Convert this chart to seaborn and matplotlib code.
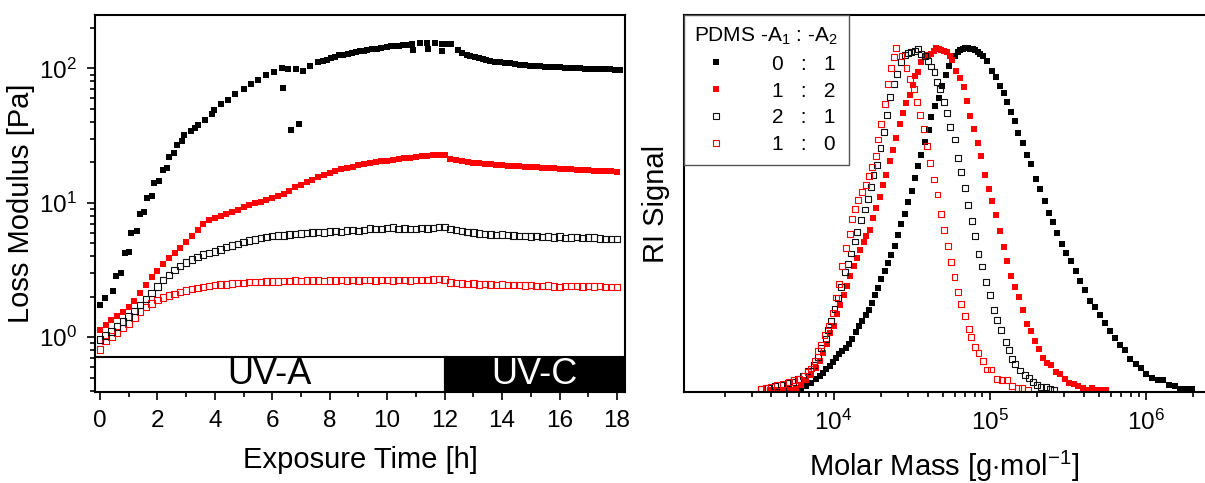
import numpy as np
import pandas as pd
import matplotlib
matplotlib.use("Agg")
import matplotlib.pyplot as plt
import matplotlib.transforms as mtransforms
from matplotlib.lines import Line2D
from matplotlib.ticker import LogLocator, MultipleLocator, NullFormatter, NullLocator
import seaborn as sns

# ---------------- data: left panel (loss modulus vs exposure time) ----------------
# PDMS -A1 : -A2 = 0 : 1 (filled black)
time_01 = [0.0, 0.17, 0.45, 0.57, 0.74, 0.86, 1.01, 1.10, 1.28, 1.38, 1.53, 1.63, 1.82, 1.89, 2.07, 2.18,
           2.35, 2.40, 2.59, 2.67, 2.87, 2.94, 3.16, 3.30, 3.42, 3.66, 3.91, 3.97, 4.21, 4.47, 4.72, 5.01,
           5.26, 5.51, 5.80, 6.07, 6.33, 6.38, 6.56, 6.67, 6.82, 6.93, 7.08, 7.33, 7.60, 7.75, 7.89, 8.03,
           8.18, 8.32, 8.47, 8.62, 8.76, 8.90, 9.05, 9.18, 9.31, 9.47, 9.63, 9.80, 9.98, 10.12, 10.27, 10.42,
           10.56, 10.70, 10.85, 10.91, 11.14, 11.37, 11.43, 11.66, 11.90, 11.92, 12.05, 12.24, 12.48, 12.62,
           12.77, 12.90, 13.06, 13.20, 13.35, 13.45, 13.58, 13.75, 13.93, 14.10, 14.28, 14.45, 14.62, 14.80,
           14.97, 15.15, 15.32, 15.50, 15.67, 15.85, 16.01, 16.20, 16.36, 16.55, 16.71, 16.90, 17.06, 17.25,
           17.41, 17.60, 17.75, 17.92, 18.10]
gpp_01 = [1.74, 1.96, 2.20, 2.85, 3.00, 4.20, 4.31, 6.00, 6.20, 8.20, 8.50, 10.9, 11.3, 14.0, 14.4, 17.4,
          18.2, 21.8, 23.3, 26.8, 28.7, 31.8, 34.5, 36.0, 37.7, 41.4, 45.9, 49.4, 53.9, 58.4, 64.7, 70.1,
          76.0, 82.4, 88.7, 94.5, 100, 71.8, 99.4, 35.1, 98.4, 38.7, 95.5, 105, 111, 113, 115, 119,
          122, 125, 127, 129, 131, 132, 134, 135, 137, 139, 140, 142, 145, 146, 147, 148,
          149, 150, 151, 137, 154, 155, 139, 154, 151, 135, 152, 151, 137, 131,
          127, 124, 122, 120, 118, 116, 113, 112, 111, 110, 109, 108, 107, 106,
          105, 104, 104, 103, 103, 102, 102, 101, 100.4, 100, 101, 99.8, 99.4, 99.0,
          98.4, 98.5, 98.4, 98.0, 97.5]

# regular sampling times for the other three samples
time_reg = [0.0, 0.2, 0.4, 0.6, 0.8, 1.0, 1.2, 1.4, 1.6, 1.8, 2.0, 2.2, 2.4, 2.6, 2.8, 3.0, 3.2, 3.4,
            3.6, 3.8, 4.0, 4.2, 4.4, 4.6, 4.8, 5.0, 5.2, 5.4, 5.6, 5.8, 6.0, 6.2, 6.4, 6.6, 6.8, 7.0,
            7.2, 7.4, 7.6, 7.8, 8.0, 8.2, 8.4, 8.6, 8.8, 9.0, 9.2, 9.4, 9.6, 9.8, 10.0, 10.2, 10.4, 10.6,
            10.8, 11.0, 11.2, 11.4, 11.6, 11.8, 12.0, 12.2, 12.4, 12.6, 12.8, 13.0, 13.2, 13.4, 13.6, 13.8,
            14.0, 14.2, 14.4, 14.6, 14.8, 15.0, 15.2, 15.4, 15.6, 15.8, 16.0, 16.2, 16.4, 16.6, 16.8, 17.0,
            17.2, 17.4, 17.6, 17.8, 18.0]
# 1 : 2 (filled red)
gpp_12 = [1.13, 1.22, 1.33, 1.43, 1.55, 1.68, 1.85, 2.12, 2.45, 2.80, 3.12, 3.50, 3.88, 4.22, 4.62, 5.08,
          5.62, 6.25, 6.90, 7.40, 7.72, 7.98, 8.25, 8.55, 8.90, 9.30, 9.60, 9.88, 10.15, 10.50, 10.85, 11.25,
          11.65, 12.30, 13.00, 13.65, 14.30, 14.90, 15.60, 16.20, 16.70, 17.20, 17.70, 18.20, 18.60, 19.00,
          19.40, 19.80, 20.10, 20.40, 20.60, 20.90, 21.20, 21.40, 21.70, 21.90, 22.20, 22.40, 22.60, 22.80,
          22.70, 21.20, 20.90, 20.40, 20.10, 19.90, 19.70, 19.50, 19.30, 19.10, 19.00, 18.90, 18.80, 18.70,
          18.60, 18.50, 18.40, 18.30, 18.20, 18.00, 17.90, 17.80, 17.70, 17.60, 17.50, 17.40, 17.30, 17.20,
          17.10, 17.10, 17.00]
# 2 : 1 (open black)
gpp_21 = [0.96, 1.03, 1.10, 1.20, 1.31, 1.42, 1.57, 1.74, 1.92, 2.12, 2.38, 2.65, 2.90, 3.15, 3.38, 3.58,
          3.77, 3.96, 4.12, 4.24, 4.34, 4.50, 4.66, 4.80, 4.95, 5.10, 5.22, 5.33, 5.44, 5.55, 5.66, 5.72,
          5.70, 5.80, 5.86, 5.90, 5.96, 6.00, 6.05, 6.02, 6.12, 6.15, 6.08, 6.21, 6.25, 6.18, 6.30, 6.45,
          6.35, 6.40, 6.50, 6.55, 6.38, 6.45, 6.40, 6.36, 6.48, 6.42, 6.50, 6.62, 6.58, 6.35, 6.25, 6.15,
          6.05, 6.02, 5.92, 5.85, 5.82, 5.78, 5.80, 5.74, 5.72, 5.68, 5.66, 5.62, 5.64, 5.58, 5.60, 5.52,
          5.62, 5.48, 5.50, 5.54, 5.45, 5.50, 5.52, 5.42, 5.38, 5.36, 5.35]
# 1 : 0 (open red)
gpp_10 = [0.81, 0.93, 1.01, 1.08, 1.17, 1.26, 1.40, 1.55, 1.67, 1.78, 1.88, 1.97, 2.04, 2.10, 2.17, 2.22,
          2.27, 2.32, 2.36, 2.40, 2.44, 2.46, 2.47, 2.50, 2.52, 2.54, 2.56, 2.57, 2.58, 2.59, 2.60, 2.60,
          2.62, 2.61, 2.63, 2.62, 2.64, 2.63, 2.64, 2.62, 2.64, 2.63, 2.65, 2.64, 2.66, 2.64, 2.65, 2.66,
          2.64, 2.66, 2.65, 2.64, 2.66, 2.65, 2.64, 2.66, 2.67, 2.65, 2.68, 2.70, 2.68, 2.55, 2.53, 2.51,
          2.49, 2.50, 2.46, 2.48, 2.47, 2.45, 2.46, 2.44, 2.45, 2.43, 2.42, 2.44, 2.41, 2.40, 2.42, 2.38,
          2.37, 2.40, 2.41, 2.39, 2.38, 2.40, 2.38, 2.39, 2.37, 2.37, 2.37]

# ---------------- data: right panel (GPC traces), log10 molar mass and normalised RI signal ----------------
logM_01 = [3.59, 3.62, 3.654, 3.70, 3.74, 3.77, 3.793, 3.825, 3.857, 3.885,
           3.91, 3.931, 3.953, 3.974, 3.996, 4.017, 4.034, 4.056, 4.077, 4.098,
           4.12, 4.141, 4.16, 4.184, 4.205, 4.224, 4.246, 4.263, 4.284, 4.306,
           4.327, 4.349, 4.37, 4.391, 4.412, 4.434, 4.455, 4.476, 4.502, 4.524,
           4.54, 4.562, 4.583, 4.609, 4.626, 4.652, 4.675, 4.697, 4.718, 4.739,
           4.757, 4.776, 4.797, 4.813, 4.829, 4.845, 4.861, 4.877, 4.893, 4.909,
           4.925, 4.941, 4.957, 4.983, 5.015, 5.043, 5.068, 5.09, 5.111, 5.136,
           5.161, 5.184, 5.214, 5.242, 5.267, 5.299, 5.325, 5.353, 5.380, 5.406,
           5.434, 5.464, 5.492, 5.519, 5.551, 5.582, 5.611, 5.641, 5.673, 5.705,
           5.737, 5.769, 5.801, 5.833, 5.865, 5.902, 5.936, 5.968, 6.004, 6.04,
           6.079, 6.111, 6.149, 6.186, 6.223, 6.26, 6.296]
ri_01 = [0.0, 0.0, 0.0, 0.0, 0.0, 0.002, 0.005, 0.012, 0.022, 0.032,
         0.041, 0.051, 0.061, 0.071, 0.083, 0.095, 0.105, 0.114, 0.124, 0.136,
         0.151, 0.171, 0.187, 0.202, 0.221, 0.236, 0.257, 0.278, 0.299, 0.326,
         0.350, 0.372, 0.397, 0.424, 0.455, 0.486, 0.516, 0.551, 0.583, 0.622,
         0.658, 0.691, 0.728, 0.764, 0.800, 0.834, 0.858, 0.893, 0.924, 0.951,
         0.968, 0.980, 0.992, 0.997, 1.0, 1.002, 1.002, 1.001, 1.0, 0.997,
         0.992, 0.987, 0.980, 0.966, 0.937, 0.917, 0.893, 0.871, 0.844, 0.815,
         0.788, 0.754, 0.725, 0.691, 0.662, 0.620, 0.589, 0.555, 0.521, 0.492,
         0.460, 0.429, 0.401, 0.378, 0.349, 0.320, 0.293, 0.263, 0.245, 0.220,
         0.197, 0.173, 0.153, 0.134, 0.119, 0.092, 0.078, 0.066, 0.049, 0.036,
         0.030, 0.030, 0.015, 0.013, 0.005, 0.005, 0.004]

logM_12 = [3.59, 3.633, 3.675, 3.718, 3.756, 3.793, 3.825, 3.857, 3.885, 3.91, 3.931, 3.957, 3.979,
           4.002, 4.021, 4.043, 4.064, 4.088, 4.107, 4.128, 4.15, 4.171, 4.192, 4.21, 4.231, 4.252,
           4.274, 4.295, 4.316, 4.338, 4.359, 4.38, 4.402, 4.423, 4.444, 4.466, 4.487, 4.509, 4.524,
           4.54, 4.562, 4.583, 4.605, 4.626, 4.641, 4.658, 4.676, 4.690, 4.707, 4.726, 4.744, 4.761,
           4.786, 4.808, 4.833, 4.855, 4.876, 4.9, 4.925, 4.947, 4.968, 4.994, 5.017, 5.043, 5.068,
           5.09, 5.111, 5.139, 5.162, 5.188, 5.213, 5.239, 5.267, 5.29, 5.314, 5.342, 5.367, 5.395,
           5.423, 5.449, 5.481, 5.509, 5.538, 5.568, 5.598, 5.626, 5.656, 5.684, 5.716, 5.748]
ri_12 = [0.001, 0.0, 0.0, 0.002, 0.007, 0.015, 0.029, 0.046, 0.066, 0.087, 0.109, 0.136, 0.168,
         0.187, 0.223, 0.249, 0.278, 0.307, 0.336, 0.363, 0.387, 0.411, 0.434, 0.452, 0.470, 0.506,
         0.533, 0.567, 0.601, 0.632, 0.671, 0.703, 0.739, 0.781, 0.813, 0.842, 0.866, 0.895, 0.920,
         0.932, 0.963, 0.976, 0.982, 0.985, 0.995, 1.002, 1.0, 0.998, 0.995, 0.992, 0.980, 0.969,
         0.937, 0.914, 0.888, 0.849, 0.805, 0.766, 0.726, 0.688, 0.632, 0.591, 0.554, 0.515, 0.467,
         0.421, 0.379, 0.336, 0.304, 0.272, 0.236, 0.194, 0.173, 0.144, 0.122, 0.095, 0.080, 0.074,
         0.054, 0.048, 0.032, 0.022, 0.017, 0.012, 0.007, 0.0, 0.007, 0.0, 0.001, 0.001]

logM_21 = [3.537, 3.579, 3.622, 3.665, 3.707, 3.74, 3.771, 3.803, 3.836, 3.872, 3.9, 3.921, 3.949,
           3.963, 3.985, 4.006, 4.028, 4.049, 4.071, 4.092, 4.113, 4.135, 4.15, 4.177, 4.199, 4.22,
           4.237, 4.256, 4.28, 4.301, 4.322, 4.344, 4.363, 4.385, 4.408, 4.434, 4.455, 4.476, 4.498,
           4.519, 4.54, 4.562, 4.583, 4.605, 4.626, 4.647, 4.662, 4.684, 4.705, 4.726, 4.748, 4.776,
           4.797, 4.814, 4.84, 4.861, 4.888, 4.908, 4.929, 4.953, 4.979, 5.0, 5.026, 5.049, 5.075,
           5.103, 5.124, 5.146, 5.16, 5.197, 5.224, 5.252, 5.278, 5.303, 5.331, 5.359, 5.385, 5.412]
ri_21 = [0.005, 0.007, 0.012, 0.017, 0.022, 0.025, 0.032, 0.041, 0.056, 0.075, 0.097, 0.124, 0.151,
         0.178, 0.204, 0.239, 0.270, 0.304, 0.346, 0.369, 0.401, 0.436, 0.463, 0.500, 0.530, 0.560,
         0.596, 0.630, 0.661, 0.710, 0.757, 0.807, 0.859, 0.898, 0.927, 0.963, 0.982, 0.988, 0.992,
         0.995, 1.0, 0.985, 0.980, 0.966, 0.949, 0.932, 0.903, 0.883, 0.846, 0.813, 0.771, 0.735,
         0.681, 0.640, 0.593, 0.542, 0.496, 0.452, 0.399, 0.363, 0.317, 0.280, 0.236, 0.205, 0.176,
         0.142, 0.119, 0.093, 0.078, 0.058, 0.046, 0.036, 0.025, 0.015, 0.009, 0.009, 0.005, 0.001]

logM_10 = [3.537, 3.564, 3.601, 3.637, 3.675, 3.714, 3.744, 3.778, 3.808, 3.836, 3.857, 3.878, 3.9,
           3.921, 3.942, 3.97, 3.996, 4.017, 4.034, 4.056, 4.077, 4.103, 4.12, 4.135, 4.156, 4.184,
           4.205, 4.227, 4.249, 4.27, 4.284, 4.306, 4.327, 4.349, 4.37, 4.385, 4.402, 4.435, 4.467,
           4.49, 4.513, 4.536, 4.555, 4.578, 4.601, 4.62, 4.643, 4.666, 4.689, 4.71, 4.733, 4.754,
           4.775, 4.798, 4.816, 4.844, 4.869, 4.883, 4.906, 4.929, 4.96, 4.983, 5.01, 5.048, 5.082,
           5.111, 5.146, 5.182, 5.21, 5.246]
ri_10 = [0.005, 0.007, 0.010, 0.015, 0.019, 0.024, 0.029, 0.032, 0.041, 0.054, 0.064, 0.085, 0.116,
         0.134, 0.161, 0.190, 0.226, 0.272, 0.311, 0.364, 0.416, 0.457, 0.502, 0.531, 0.557, 0.580,
         0.601, 0.628, 0.655, 0.688, 0.735, 0.781, 0.839, 0.898, 0.944, 0.976, 1.002, 0.979, 0.945,
         0.913, 0.884, 0.845, 0.806, 0.767, 0.717, 0.667, 0.618, 0.574, 0.516, 0.470, 0.424, 0.376,
         0.333, 0.289, 0.254, 0.218, 0.180, 0.155, 0.126, 0.109, 0.087, 0.061, 0.061, 0.032, 0.029,
         0.029, 0.012, 0.007, 0.007, 0.0]

legend_title = "PDMS -A$_1$ : -A$_2$"
legend_labels = ["0   :   1", "1   :   2", "2   :   1", "1   :   0"]
band_labels = ["UV-A", "UV-C"]
uv_switch_h = 12

# ---------------- style ----------------
sns.set_style("ticks")
plt.rcParams["font.family"] = ["Liberation Sans", "DejaVu Sans"]
plt.rcParams["mathtext.fontset"] = "custom"
plt.rcParams["mathtext.rm"] = "Liberation Sans"
plt.rcParams["mathtext.it"] = "Liberation Sans:italic"
plt.rcParams["mathtext.bf"] = "Liberation Sans:bold"
for key in ("text.color", "axes.labelcolor", "xtick.color", "ytick.color", "axes.edgecolor"):
    plt.rcParams[key] = "black"

RED = "#ff0000"
W, H = 1205, 483
fig = plt.figure(figsize=(W / 100, H / 100), dpi=100)
axL = fig.add_axes([95 / W, 1 - 392 / H, 530 / W, 377 / H])
axR = fig.add_axes([684 / W, 1 - 392 / H, 521 / W, 377 / H])

S_FILL_L, S_OPEN_L = 25, 21
S_FILL_R, S_OPEN_R = 19, 18

def filled(ax, x, y, color, s):
    sns.scatterplot(x=x, y=y, marker="s", s=s, color=color, edgecolor=color, linewidth=0,
                    ax=ax, legend=False, zorder=2)

def opened(ax, x, y, color, s):
    sns.scatterplot(x=x, y=y, marker="s", s=s, color=color, facecolor="none", edgecolor=color,
                    linewidth=0.8, ax=ax, legend=False, zorder=2)

# ---------- left panel ----------
opened(axL, time_reg, gpp_10, RED, S_OPEN_L)
opened(axL, time_reg, gpp_21, "#111111", S_OPEN_L)
filled(axL, time_reg, gpp_12, RED, S_FILL_L)
filled(axL, time_01, gpp_01, "black", S_FILL_L)

axL.set_yscale("log")
axL.set_ylim(0.39, 250)
axL.set_xlim(-0.17, 18.28)
axL.xaxis.set_major_locator(MultipleLocator(2))
axL.xaxis.set_minor_locator(MultipleLocator(1))
axL.yaxis.set_major_locator(LogLocator(base=10))
axL.yaxis.set_minor_locator(LogLocator(base=10, subs=np.arange(2, 10)))
axL.yaxis.set_minor_formatter(NullFormatter())
axL.set_xlabel("Exposure Time [h]", fontsize=21, labelpad=10)
axL.set_ylabel("Loss Modulus [Pa]", fontsize=21, labelpad=3)

xmin, xmax = axL.get_xlim()
band_top = 0.093
axL.axvspan(xmin, uv_switch_h, ymin=0, ymax=band_top, facecolor="white", edgecolor="black",
            linewidth=1.5, zorder=3)
axL.axvspan(uv_switch_h, xmax, ymin=0, ymax=band_top, facecolor="black", edgecolor="black",
            linewidth=1.5, zorder=3)
blend = mtransforms.blended_transform_factory(axL.transData, axL.transAxes)
axL.text((xmin + uv_switch_h) / 2, band_top / 2, band_labels[0], transform=blend, ha="center",
         va="center", fontsize=26, color="black", zorder=4)
axL.text((uv_switch_h + xmax) / 2, band_top / 2, band_labels[1], transform=blend, ha="center",
         va="center", fontsize=26, color="white", zorder=4)

# ---------- right panel ----------
M_01 = [10 ** v for v in logM_01]
M_12 = [10 ** v for v in logM_12]
M_21 = [10 ** v for v in logM_21]
M_10 = [10 ** v for v in logM_10]
filled(axR, M_01, ri_01, "black", S_FILL_R)
filled(axR, M_12, ri_12, RED, S_FILL_R)
opened(axR, M_21, ri_21, "#111111", S_OPEN_R)
opened(axR, M_10, ri_10, RED, S_OPEN_R)

axR.set_xscale("log")
axR.set_xlim(1.1e3, 2.4e6)
axR.set_ylim(-0.005, 1.10)
axR.xaxis.set_major_locator(LogLocator(base=10))
axR.xaxis.set_minor_locator(LogLocator(base=10, subs=np.arange(2, 10)))
axR.xaxis.set_minor_formatter(NullFormatter())
axR.yaxis.set_major_locator(NullLocator())
axR.yaxis.set_minor_locator(NullLocator())
axR.spines["right"].set_visible(False)
axR.set_xlabel("Molar Mass [g$\\cdot$mol$^{-1}$]", fontsize=21, labelpad=10)
axR.set_ylabel("RI Signal", fontsize=21, labelpad=10)

for ax in (axL, axR):
    for sp in ax.spines.values():
        sp.set_linewidth(1.5)
        sp.set_color("black")
    ax.tick_params(which="both", direction="out", top=False, right=False, width=1.2,
                   labelsize=17.5, colors="black")
    ax.tick_params(which="major", length=6, pad=7)
    ax.tick_params(which="minor", length=3.5)

handles = [
    Line2D([0], [0], marker="s", ls="none", ms=4.4, mfc="black", mec="black", mew=0),
    Line2D([0], [0], marker="s", ls="none", ms=4.4, mfc=RED, mec=RED, mew=0),
    Line2D([0], [0], marker="s", ls="none", ms=4.4, mfc="none", mec="#111111", mew=0.8),
    Line2D([0], [0], marker="s", ls="none", ms=4.4, mfc="none", mec=RED, mew=0.8),
]
leg = axR.legend(handles, legend_labels, title=legend_title, loc="upper left",
                 bbox_to_anchor=(0, 1), borderaxespad=0, frameon=True, fancybox=False,
                 edgecolor="#555555", framealpha=1, fontsize=15, title_fontsize=15,
                 handlelength=2.1, handletextpad=1.6, labelspacing=0.38, borderpad=0.5,
                 alignment="left")
leg.get_frame().set_linewidth(1.0)

fig.savefig("out.png", dpi=100)
